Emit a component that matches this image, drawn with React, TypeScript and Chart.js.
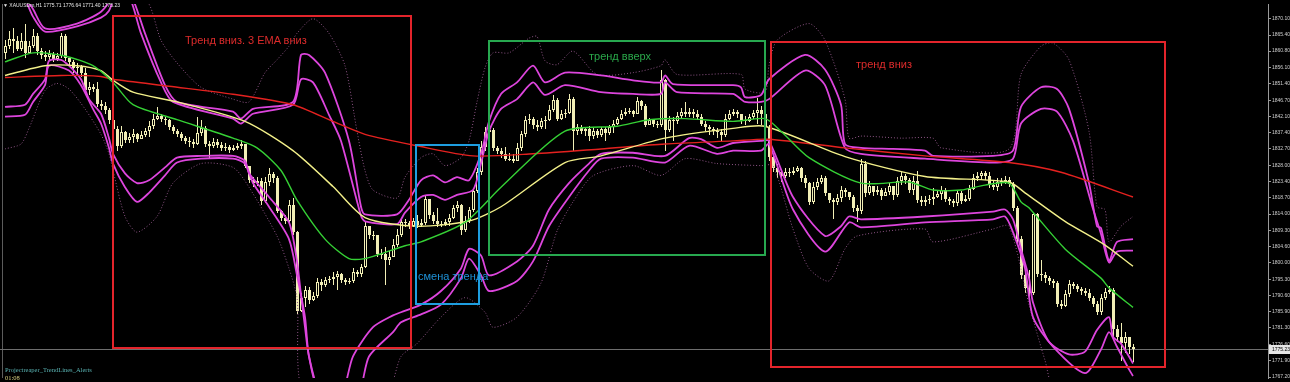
import React, { useEffect, useRef } from "react";
import { Chart, registerables } from "chart.js";

Chart.register(...registerables);

// ---------- DATA (XAUUSDm, H1) ----------
const firstOpen = 1860.3;
const closes = [
  1862.2, 1864.2, 1863.6, 1861.4, 1863.6, 1860.3, 1862.2, 1865.1, 1860.8, 1859.7,
  1859.1, 1860.0, 1858.6, 1859.4, 1865.1, 1858.9, 1857.7, 1855.8, 1856.3, 1854.6,
  1849.6, 1850.4, 1849.9, 1845.6, 1845.1, 1844.0, 1841.1, 1838.3, 1833.6, 1837.5,
  1835.2, 1836.1, 1836.9, 1835.5, 1836.6, 1837.8, 1839.2, 1841.4, 1842.3, 1841.4,
  1840.9, 1838.9, 1837.8, 1836.9, 1835.8, 1835.0, 1834.7, 1834.1, 1837.2, 1838.6,
  1834.1, 1833.6, 1834.7, 1833.8, 1833.0, 1833.3, 1832.4, 1833.0, 1833.6, 1834.1,
  1827.9, 1823.7, 1822.9, 1823.4, 1817.8, 1823.1, 1825.4, 1824.3, 1815.0, 1813.0,
  1811.9, 1816.7, 1808.8, 1786.3, 1790.0, 1792.2, 1789.4, 1790.5, 1794.5, 1793.6,
  1795.0, 1795.3, 1795.9, 1796.7, 1795.0, 1794.5, 1794.8, 1797.3, 1796.7, 1798.7,
  1810.5, 1808.0, 1808.0, 1802.6, 1802.6, 1800.7, 1801.8, 1805.2, 1808.0, 1811.6,
  1811.3, 1810.5, 1811.9, 1810.8, 1811.3, 1818.4, 1813.6, 1811.9, 1811.1, 1811.1,
  1811.6, 1813.0, 1815.8, 1816.7, 1809.4, 1811.9, 1815.3, 1820.6, 1826.0, 1833.3,
  1837.5, 1838.0, 1833.0, 1832.2, 1831.3, 1829.9, 1829.9, 1829.3, 1833.0, 1836.9,
  1841.1, 1841.4, 1839.5, 1838.9, 1840.6, 1841.1, 1844.0, 1846.8, 1841.4, 1842.6,
  1843.1, 1847.0, 1837.8, 1838.9, 1837.8, 1838.3, 1836.4, 1837.8, 1836.6, 1838.3,
  1837.2, 1838.9, 1840.0, 1841.4, 1842.8, 1843.4, 1843.7, 1842.8, 1846.5, 1845.1,
  1839.7, 1840.9, 1840.0, 1839.5, 1852.4, 1838.0, 1841.1, 1840.6, 1842.3, 1843.4,
  1842.8, 1843.4, 1842.8, 1842.0, 1840.0, 1838.9, 1838.3, 1837.8, 1837.5, 1836.6,
  1841.4, 1842.8, 1843.4, 1842.6, 1841.1, 1840.6, 1842.0, 1843.1, 1844.0, 1842.8,
  1838.9, 1830.5, 1827.1, 1826.0, 1824.8, 1826.2, 1825.7, 1826.5, 1827.1, 1824.3,
  1822.9, 1817.5, 1821.7, 1823.1, 1824.3, 1820.1, 1818.1, 1817.5, 1818.6, 1820.9,
  1820.3, 1818.9, 1815.8, 1815.0, 1828.5, 1820.1, 1822.0, 1820.3, 1820.9, 1819.2,
  1820.3, 1822.0, 1819.5, 1823.4, 1824.8, 1823.7, 1820.9, 1823.4, 1818.1, 1817.5,
  1818.1, 1818.4, 1818.9, 1819.8, 1820.9, 1818.4, 1817.8, 1817.2, 1820.1, 1817.8,
  1818.4, 1821.2, 1824.3, 1824.8, 1825.7, 1824.8, 1822.3, 1821.7, 1823.1, 1823.4,
  1823.7, 1822.6, 1815.8, 1806.8, 1796.4, 1792.8, 1791.4, 1813.9, 1796.7, 1796.4,
  1795.6, 1794.8, 1794.2, 1788.3, 1787.7, 1791.1, 1793.9, 1793.4, 1792.5, 1792.0,
  1791.4, 1790.0, 1788.3, 1785.8, 1790.0, 1791.7, 1792.2, 1781.0, 1778.7, 1777.0,
  1778.7, 1775.71, 1775.23,
];
const highs = [
  1863.9, 1866.5, 1867.3, 1865.1, 1865.9, 1868.7, 1863.6, 1867.0, 1865.9, 1861.7,
  1860.8, 1861.1, 1860.5, 1860.3, 1865.9, 1865.6, 1859.1, 1858.3, 1857.5, 1856.9,
  1855.8, 1851.8, 1851.3, 1851.8, 1846.8, 1846.2, 1844.5, 1842.0, 1839.2, 1839.2,
  1837.8, 1837.2, 1838.3, 1837.2, 1837.8, 1838.6, 1840.6, 1842.8, 1844.8, 1842.8,
  1842.0, 1841.4, 1839.5, 1838.3, 1837.5, 1836.4, 1836.1, 1835.5, 1842.0, 1841.1,
  1839.2, 1835.0, 1835.8, 1835.5, 1834.7, 1834.4, 1833.8, 1833.8, 1834.4, 1835.2,
  1834.1, 1827.9, 1824.6, 1824.6, 1824.3, 1824.6, 1827.1, 1826.0, 1824.8, 1815.3,
  1813.6, 1818.1, 1818.6, 1809.1, 1791.4, 1793.3, 1793.1, 1791.7, 1795.6, 1795.3,
  1795.9, 1796.2, 1797.3, 1797.6, 1797.0, 1795.6, 1795.6, 1798.4, 1797.8, 1799.8,
  1811.9, 1809.7, 1809.1, 1808.0, 1804.0, 1804.6, 1803.5, 1806.8, 1809.7, 1813.0,
  1812.7, 1811.9, 1813.0, 1813.6, 1812.5, 1819.5, 1818.4, 1814.7, 1815.8, 1811.9,
  1812.5, 1813.9, 1816.7, 1817.8, 1817.0, 1813.3, 1816.1, 1821.5, 1827.1, 1835.0,
  1838.9, 1839.2, 1838.6, 1833.6, 1833.0, 1833.3, 1831.6, 1831.3, 1834.4, 1837.8,
  1842.3, 1842.8, 1842.0, 1841.1, 1841.7, 1842.3, 1845.4, 1848.2, 1847.3, 1844.0,
  1844.2, 1848.5, 1847.6, 1840.0, 1839.5, 1838.9, 1839.2, 1838.9, 1838.3, 1838.9,
  1838.9, 1839.7, 1841.1, 1842.0, 1844.0, 1844.5, 1844.5, 1844.0, 1847.6, 1846.8,
  1845.6, 1841.7, 1841.4, 1840.6, 1855.5, 1852.7, 1842.3, 1842.0, 1843.4, 1844.5,
  1846.2, 1844.5, 1844.2, 1844.0, 1842.8, 1840.6, 1839.5, 1838.9, 1838.6, 1838.3,
  1842.6, 1844.0, 1844.2, 1844.0, 1842.8, 1842.3, 1842.8, 1844.0, 1847.3, 1845.1,
  1843.4, 1839.5, 1830.7, 1828.5, 1826.5, 1827.1, 1827.1, 1827.6, 1827.9, 1827.6,
  1825.1, 1823.1, 1823.1, 1824.3, 1825.1, 1824.8, 1819.5, 1818.6, 1819.8, 1822.0,
  1821.5, 1820.1, 1819.5, 1816.7, 1829.9, 1829.3, 1823.4, 1821.5, 1822.0, 1821.5,
  1821.5, 1822.9, 1822.0, 1824.6, 1826.0, 1825.4, 1824.3, 1824.8, 1826.5, 1819.2,
  1819.2, 1819.5, 1821.5, 1820.6, 1822.0, 1821.5, 1818.9, 1818.4, 1820.9, 1820.6,
  1819.5, 1822.3, 1825.4, 1826.0, 1826.5, 1826.5, 1826.0, 1823.7, 1824.3, 1824.3,
  1824.8, 1824.6, 1823.1, 1816.4, 1807.7, 1797.8, 1797.8, 1814.4, 1814.4, 1800.7,
  1797.3, 1796.2, 1795.3, 1794.8, 1789.4, 1792.2, 1795.0, 1794.5, 1793.9, 1793.1,
  1792.8, 1792.5, 1790.5, 1788.9, 1791.1, 1792.8, 1793.3, 1792.8, 1782.1, 1782.7,
  1780.1, 1778.7, 1776.64,
];
const lows = [
  1858.6, 1861.4, 1860.3, 1860.8, 1860.8, 1858.9, 1860.3, 1861.7, 1859.7, 1858.6,
  1858.0, 1858.3, 1857.7, 1858.0, 1858.9, 1858.0, 1856.9, 1854.6, 1854.1, 1853.5,
  1848.5, 1848.2, 1849.0, 1844.8, 1844.0, 1842.8, 1840.0, 1837.2, 1832.2, 1833.0,
  1834.4, 1834.4, 1834.4, 1834.7, 1835.5, 1836.1, 1836.1, 1838.3, 1840.9, 1840.3,
  1839.5, 1838.0, 1836.9, 1836.1, 1835.0, 1834.1, 1833.3, 1833.0, 1833.8, 1836.4,
  1833.3, 1829.9, 1833.0, 1833.0, 1832.2, 1832.2, 1831.6, 1832.2, 1832.4, 1832.7,
  1827.1, 1822.9, 1821.7, 1822.0, 1816.7, 1817.2, 1822.0, 1822.9, 1814.2, 1811.9,
  1811.1, 1811.3, 1808.0, 1785.2, 1785.8, 1787.2, 1788.3, 1788.9, 1790.0, 1792.0,
  1793.1, 1794.2, 1793.6, 1792.2, 1794.2, 1793.6, 1793.9, 1794.2, 1795.9, 1795.9,
  1798.4, 1806.8, 1806.6, 1801.8, 1801.2, 1793.6, 1799.5, 1801.8, 1804.6, 1807.4,
  1810.2, 1809.7, 1810.2, 1809.9, 1810.2, 1810.8, 1812.7, 1811.1, 1810.2, 1810.2,
  1810.5, 1810.5, 1812.5, 1814.7, 1808.0, 1808.8, 1811.3, 1814.7, 1820.1, 1825.1,
  1832.2, 1836.6, 1832.2, 1831.3, 1830.2, 1829.3, 1829.1, 1828.8, 1829.1, 1832.2,
  1836.1, 1840.0, 1838.3, 1837.8, 1838.3, 1838.3, 1840.6, 1843.4, 1840.6, 1840.9,
  1841.7, 1842.6, 1832.2, 1836.6, 1836.9, 1836.4, 1835.0, 1835.5, 1835.8, 1836.1,
  1835.0, 1836.6, 1837.2, 1839.5, 1841.1, 1842.3, 1842.6, 1842.0, 1842.8, 1844.0,
  1838.9, 1839.5, 1838.9, 1838.6, 1838.9, 1832.2, 1837.5, 1835.0, 1840.0, 1841.4,
  1842.0, 1842.0, 1841.7, 1841.1, 1839.2, 1837.8, 1836.6, 1836.6, 1835.8, 1835.0,
  1836.1, 1841.1, 1842.3, 1841.7, 1840.0, 1839.7, 1840.3, 1841.4, 1840.0, 1839.7,
  1838.3, 1829.3, 1826.0, 1824.3, 1823.1, 1824.3, 1824.6, 1825.1, 1826.0, 1823.1,
  1821.5, 1816.7, 1817.0, 1820.9, 1822.6, 1819.2, 1817.2, 1812.5, 1816.7, 1817.5,
  1818.9, 1818.1, 1814.7, 1811.6, 1813.9, 1818.9, 1819.5, 1819.2, 1819.5, 1818.1,
  1819.2, 1819.5, 1818.1, 1818.9, 1822.3, 1822.6, 1820.1, 1819.5, 1817.2, 1816.4,
  1816.4, 1817.0, 1816.7, 1818.6, 1818.1, 1817.5, 1816.7, 1816.1, 1816.4, 1817.0,
  1817.5, 1817.8, 1820.9, 1823.4, 1824.0, 1823.7, 1821.5, 1820.9, 1820.6, 1822.0,
  1822.6, 1821.7, 1815.0, 1805.7, 1795.3, 1791.4, 1790.0, 1790.8, 1795.9, 1794.8,
  1794.2, 1793.6, 1792.8, 1787.4, 1786.6, 1787.2, 1790.3, 1792.5, 1791.7, 1790.8,
  1790.5, 1789.1, 1787.2, 1784.9, 1784.9, 1789.4, 1791.1, 1778.7, 1777.3, 1771.7,
  1774.0, 1773.7, 1771.40,
];
const lastBid = 1775.23;

const priceTicks = [
  1870.1, 1865.4, 1860.8, 1856.1, 1851.4, 1846.7, 1842.1, 1837.4, 1832.7, 1828.0,
  1823.4, 1818.7, 1814.0, 1809.3, 1804.6, 1800.0, 1795.3, 1790.6, 1785.9, 1781.3,
  1776.6, 1771.9, 1767.2,
];

// EMAs (bar index -> value)
const emaRedIdx = [0, 14, 24, 27, 41, 57, 72, 82, 90, 103, 117, 132, 149, 165, 182, 191, 210, 230, 251, 264, 282];
const emaRedVal = [1853.2, 1853.8, 1853.5, 1852.7, 1850.7, 1848.4, 1845.4, 1840.6, 1836.9, 1833.6, 1830.7, 1831.3, 1832.7, 1834.1, 1835.0, 1835.5, 1833.0, 1830.7, 1828.8, 1826.0, 1818.9];

const emaYellowIdx = [0, 10, 18, 24, 27, 32, 43, 60, 72, 82, 90, 103, 116, 124, 140, 149, 165, 182, 190, 210, 230, 251, 255, 265, 275, 282];
const emaYellowVal = [1853.8, 1856.6, 1856.6, 1855.2, 1852.4, 1849.0, 1846.2, 1840.6, 1832.2, 1821.9, 1813.0, 1810.5, 1812.0, 1816.1, 1828.8, 1830.7, 1835.8, 1838.6, 1839.2, 1830.5, 1824.8, 1823.2, 1820.1, 1811.9, 1805.1, 1799.0];

const emaGreenIdx = [0, 7, 15, 22, 27, 32, 43, 57, 63, 69, 73, 80, 86, 90, 94, 100, 104, 115, 124, 140, 153, 161, 170, 182, 190, 194, 201, 214, 226, 232, 239, 245, 251, 254, 256, 265, 274, 276, 282];
const emaGreenVal = [1857.7, 1860.3, 1859.4, 1856.6, 1851.8, 1845.4, 1841.1, 1835.8, 1833.0, 1826.5, 1818.0, 1806.8, 1801.2, 1801.2, 1802.6, 1804.9, 1806.0, 1811.6, 1821.7, 1837.8, 1839.2, 1841.1, 1841.4, 1840.6, 1841.4, 1837.8, 1830.2, 1822.9, 1823.2, 1820.9, 1820.9, 1822.3, 1822.9, 1817.5, 1815.8, 1804.0, 1795.6, 1792.8, 1787.2];

// Bands
const upperOuterIdx = [0, 4, 7, 10, 18, 24, 27, 29, 32, 35, 40, 43, 57, 59, 62, 72, 74, 76, 80, 86, 89, 90, 98, 101, 104, 107, 110, 113, 116, 119, 121, 124, 128, 132, 135, 140, 149, 157, 164, 165, 167, 182, 184, 185, 189, 191, 200, 205, 209, 210, 214, 222, 230, 232, 247, 252, 254, 259, 263, 266, 271, 273, 274, 276, 278, 282];
const upperOuterVal = [1888.4, 1878.5, 1872.9, 1867.3, 1868.7, 1872.1, 1876.6, 1881.3, 1875.7, 1865.9, 1851.0, 1846.2, 1843.4, 1841.4, 1844.2, 1846.2, 1859.7, 1859.7, 1854.6, 1835.0, 1816.1, 1813.9, 1813.9, 1818.1, 1823.7, 1825.1, 1823.1, 1824.6, 1823.7, 1831.3, 1840.6, 1848.5, 1851.8, 1856.6, 1851.8, 1854.6, 1853.8, 1852.4, 1851.8, 1853.8, 1851.3, 1851.0, 1850.4, 1847.6, 1848.2, 1852.7, 1859.7, 1855.5, 1845.4, 1834.1, 1833.0, 1832.7, 1832.2, 1830.7, 1830.7, 1832.2, 1844.8, 1850.4, 1849.9, 1844.2, 1822.9, 1810.5, 1810.0, 1800.6, 1806.0, 1806.8];

const upperInnerIdx = [0, 5, 7, 10, 18, 24, 26, 28, 31, 34, 39, 42, 57, 59, 62, 72, 74, 77, 81, 84, 89, 90, 98, 100, 104, 107, 110, 113, 117, 119, 121, 124, 128, 132, 135, 140, 149, 157, 164, 165, 168, 182, 184, 185, 189, 191, 200, 205, 210, 214, 230, 247, 252, 254, 259, 263, 267, 272, 274, 276, 278, 282];
const upperInnerVal = [1884.2, 1875.7, 1870.7, 1866.4, 1867.9, 1870.4, 1872.4, 1877.7, 1876.6, 1865.9, 1851.8, 1846.2, 1841.4, 1840.0, 1842.8, 1845.4, 1852.7, 1851.8, 1842.5, 1835.0, 1813.5, 1811.9, 1811.1, 1814.4, 1818.9, 1819.5, 1818.1, 1819.5, 1820.9, 1828.5, 1837.8, 1844.2, 1847.0, 1851.8, 1848.2, 1851.0, 1849.0, 1848.5, 1848.5, 1851.8, 1849.0, 1848.5, 1847.0, 1846.2, 1846.2, 1847.0, 1855.2, 1851.0, 1833.0, 1831.3, 1829.9, 1828.8, 1829.9, 1840.0, 1844.2, 1843.4, 1835.0, 1815.5, 1808.3, 1800.1, 1803.2, 1803.5];

const lowerInnerIdx = [0, 5, 7, 10, 11, 14, 16, 19, 21, 24, 26, 27, 30, 33, 36, 40, 43, 49, 57, 60, 61, 66, 71, 73, 74, 75, 76, 79, 84, 87, 92, 97, 99, 104, 109, 114, 116, 119, 121, 128, 132, 136, 141, 146, 149, 157, 165, 171, 174, 178, 182, 189, 191, 197, 205, 209, 211, 214, 230, 247, 250, 252, 254, 256, 257, 261, 266, 270, 273, 276, 277, 279, 282];
const lowerInnerVal = [1844.8, 1845.4, 1848.5, 1852.7, 1858.0, 1858.3, 1856.6, 1852.7, 1847.0, 1842.8, 1835.8, 1831.3, 1825.7, 1822.9, 1823.7, 1827.4, 1830.2, 1830.7, 1830.7, 1829.3, 1825.7, 1818.9, 1811.6, 1800.4, 1790.8, 1781.5, 1773.1, 1761.9, 1761.9, 1773.1, 1781.5, 1784.9, 1785.8, 1788.0, 1791.9, 1798.4, 1804.0, 1802.1, 1796.4, 1800.4, 1804.9, 1815.3, 1822.9, 1828.5, 1831.3, 1831.6, 1830.7, 1835.8, 1835.5, 1833.0, 1834.4, 1835.0, 1835.0, 1818.9, 1807.7, 1810.5, 1813.3, 1812.5, 1813.3, 1814.7, 1815.3, 1812.5, 1804.0, 1795.6, 1788.6, 1777.3, 1773.7, 1774.5, 1780.7, 1784.4, 1778.7, 1776.8, 1771.1];

const lowerOuterIdx = [0, 5, 7, 10, 11, 16, 19, 22, 24, 26, 27, 30, 33, 36, 40, 43, 49, 57, 60, 62, 66, 71, 73, 75, 76, 79, 88, 91, 97, 99, 104, 109, 114, 116, 119, 121, 128, 132, 136, 141, 146, 149, 157, 165, 171, 178, 182, 189, 191, 197, 205, 211, 214, 230, 247, 250, 252, 255, 257, 262, 270, 274, 276, 278, 281, 282];
const lowerOuterVal = [1842.0, 1842.5, 1846.2, 1851.0, 1856.6, 1855.2, 1851.0, 1844.2, 1840.0, 1833.0, 1828.5, 1821.7, 1817.5, 1820.1, 1825.1, 1828.8, 1829.9, 1829.9, 1828.5, 1822.9, 1816.1, 1806.8, 1796.4, 1784.4, 1773.1, 1761.9, 1761.9, 1773.1, 1780.1, 1782.9, 1785.2, 1788.0, 1795.6, 1801.2, 1796.4, 1791.9, 1794.8, 1800.4, 1810.5, 1818.9, 1826.5, 1829.9, 1830.2, 1828.8, 1833.6, 1831.3, 1832.2, 1832.2, 1834.1, 1815.3, 1803.2, 1811.6, 1810.2, 1811.6, 1812.5, 1813.3, 1808.8, 1798.4, 1784.4, 1775.9, 1768.3, 1775.1, 1780.1, 1775.9, 1769.4, 1767.5];

const dottedUpperIdx = [0, 25, 31, 36, 39, 43, 49, 57, 61, 65, 68, 71, 73, 77, 81, 85, 88, 90, 92, 98, 100, 104, 107, 110, 114, 116, 118, 120, 122, 126, 131, 133, 135, 138, 142, 148, 157, 164, 165, 168, 184, 185, 190, 191, 193, 201, 205, 210, 211, 214, 224, 232, 234, 251, 254, 259, 262, 266, 271, 273, 275, 276, 279, 282];
const dottedUpperVal = [1896.8, 1891.2, 1880.0, 1874.3, 1863.9, 1857.4, 1850.4, 1847.0, 1846.2, 1854.6, 1858.3, 1862.2, 1865.9, 1870.1, 1865.9, 1856.6, 1837.8, 1826.5, 1820.9, 1818.6, 1824.6, 1830.2, 1831.3, 1827.9, 1830.2, 1835.0, 1846.2, 1856.0, 1860.3, 1860.3, 1864.5, 1865.0, 1858.0, 1856.9, 1860.8, 1854.1, 1854.6, 1856.6, 1858.3, 1854.1, 1854.1, 1849.9, 1849.0, 1856.6, 1863.9, 1868.7, 1863.9, 1847.0, 1835.8, 1836.4, 1835.8, 1835.8, 1833.0, 1832.7, 1854.1, 1862.2, 1863.1, 1858.3, 1837.8, 1816.1, 1815.3, 1806.0, 1810.5, 1813.3];

const dottedLowerIdx = [0, 4, 6, 10, 13, 16, 20, 24, 26, 27, 30, 33, 38, 42, 49, 57, 61, 68, 71, 73, 75, 95, 99, 103, 109, 115, 120, 122, 128, 134, 138, 142, 147, 157, 164, 170, 178, 189, 192, 197, 201, 206, 210, 213, 230, 232, 247, 251, 256, 260, 263, 282];
const dottedLowerVal = [1832.7, 1834.1, 1838.6, 1849.5, 1851.5, 1849.9, 1844.2, 1836.9, 1831.3, 1826.5, 1813.3, 1808.8, 1813.3, 1822.9, 1828.5, 1827.4, 1821.7, 1807.7, 1798.4, 1790.0, 1761.9, 1761.9, 1773.1, 1776.8, 1784.4, 1790.0, 1785.8, 1781.5, 1784.4, 1794.2, 1809.1, 1817.5, 1825.0, 1827.9, 1825.1, 1829.9, 1828.5, 1827.9, 1827.9, 1809.7, 1798.4, 1794.8, 1804.0, 1807.7, 1809.7, 1806.0, 1809.7, 1810.5, 1788.0, 1772.0, 1761.9, 1756.2];

// annotation zones (bar index range, price range)
const zones = [
  { from: 27, to: 101.5, hi: 1870.9, lo: 1775.6, color: "#e3242b" },
  { from: 102.75, to: 118.5, hi: 1833.8, lo: 1788.3, color: "#1e9ee0" },
  { from: 121, to: 190, hi: 1863.6, lo: 1802.1, color: "#27a84f" },
  { from: 191.5, to: 290, hi: 1863.4, lo: 1770.0, color: "#e3242b" },
];

const CANDLE = "#f2efb6";

const pts = (idx: number[], val: number[]) => idx.map((x, k) => ({ x, y: val[k] }));

const chartPlugin = {
  id: "mt4overlay",
  beforeDatasetsDraw(chart: any) {
    const { ctx, chartArea: a, scales } = chart;
    const xs = scales.x;
    const ys = scales.y;
    ctx.save();
    ctx.beginPath();
    ctx.rect(a.left, a.top, a.right - a.left, a.bottom - a.top);
    ctx.clip();
    // left frame line
    ctx.fillStyle = "#5c5c5c";
    ctx.fillRect(a.left + 2, a.top, 1, a.bottom - a.top);
    // bid line
    const by = Math.round(ys.getPixelForValue(lastBid)) + 0.5;
    ctx.strokeStyle = "#6e6e6e";
    ctx.lineWidth = 1;
    ctx.beginPath();
    ctx.moveTo(a.left, by);
    ctx.lineTo(a.right, by);
    ctx.stroke();
    // candles
    for (let i = 0; i < closes.length; i++) {
      const o = i === 0 ? firstOpen : closes[i - 1];
      const c = closes[i];
      const px = Math.round(xs.getPixelForValue(i));
      const yh = Math.round(ys.getPixelForValue(highs[i]));
      const yl = Math.round(ys.getPixelForValue(lows[i]));
      const yo = Math.round(ys.getPixelForValue(o));
      const yc = Math.round(ys.getPixelForValue(c));
      ctx.fillStyle = CANDLE;
      ctx.fillRect(px, yh, 1, Math.max(1, yl - yh));
      const top = Math.min(yo, yc);
      const h = Math.max(1, Math.abs(yo - yc));
      if (c < o) {
        ctx.fillStyle = CANDLE;
        ctx.fillRect(px - 1, top, 3, h);
      } else {
        ctx.fillStyle = CANDLE;
        ctx.fillRect(px - 1, top, 3, h);
        if (h > 2) {
          ctx.fillStyle = "#000000";
          ctx.fillRect(px, top + 1, 1, h - 2);
        }
      }
    }
    ctx.restore();
  },
  afterDatasetsDraw(chart: any) {
    const { ctx, chartArea: a, scales } = chart;
    const xs = scales.x;
    const ys = scales.y;
    ctx.save();
    ctx.beginPath();
    ctx.rect(a.left, a.top, a.right - a.left, a.bottom - a.top);
    ctx.clip();
    ctx.lineWidth = 2;
    zones.forEach((z) => {
      const x1 = Math.round(xs.getPixelForValue(z.from));
      const x2 = Math.round(xs.getPixelForValue(z.to));
      const y1 = Math.round(ys.getPixelForValue(z.hi));
      const y2 = Math.round(ys.getPixelForValue(z.lo));
      ctx.strokeStyle = z.color;
      ctx.strokeRect(x1, y1, x2 - x1, y2 - y1);
    });
    ctx.restore();
  },
  afterDraw(chart: any) {
    const { ctx, chartArea: a, scales, width } = chart;
    const ys = scales.y;
    const by = Math.round(ys.getPixelForValue(lastBid));
    ctx.save();
    ctx.fillStyle = "#e6e6e6";
    ctx.fillRect(a.right + 1, by - 4, width - a.right - 1, 9);
    ctx.fillStyle = "#000000";
    ctx.font = "5px 'Liberation Sans'";
    ctx.textBaseline = "middle";
    ctx.fillText(lastBid.toFixed(2), a.right + 4, by + 0.5);
    ctx.restore();
  },
};

const lineDs = (label: string, idx: number[], val: number[], color: string, width: number, dash?: number[]) => ({
  label,
  data: pts(idx, val),
  borderColor: color,
  borderWidth: width,
  borderDash: dash || [],
  pointRadius: 0,
  fill: false,
  tension: 0.25,
});

export default function App() {
  const ref = useRef<HTMLCanvasElement | null>(null);

  useEffect(() => {
    if (!ref.current) return;
    const chart = new Chart(ref.current, {
      type: "line",
      data: {
        datasets: [
          lineDs("EMA fast", emaGreenIdx, emaGreenVal, "#35d035", 1.4),
          lineDs("EMA mid", emaYellowIdx, emaYellowVal, "#f3f08a", 1.4),
          lineDs("EMA slow", emaRedIdx, emaRedVal, "#e4211f", 1.4),
          lineDs("Upper outer", upperOuterIdx, upperOuterVal, "#dd45dd", 1.8),
          lineDs("Upper inner", upperInnerIdx, upperInnerVal, "#dd45dd", 1.8),
          lineDs("Lower inner", lowerInnerIdx, lowerInnerVal, "#dd45dd", 1.8),
          lineDs("Lower outer", lowerOuterIdx, lowerOuterVal, "#dd45dd", 1.8),
          lineDs("Dotted upper", dottedUpperIdx, dottedUpperVal, "#8e5586", 1, [1, 2]),
          lineDs("Dotted lower", dottedLowerIdx, dottedLowerVal, "#8e5586", 1, [1, 2]),
        ],
      },
      options: {
        animation: false,
        responsive: false,
        maintainAspectRatio: false,
        events: [],
        layout: { padding: 0, autoPadding: false },
        plugins: { legend: { display: false }, tooltip: { enabled: false } },
        scales: {
          x: { type: "linear", min: -1.25, max: 315.75, display: false },
          y: {
            position: "right",
            min: 1766.92,
            max: 1874.32,
            afterBuildTicks: (s: any) => {
              s.ticks = priceTicks.map((v) => ({ value: v }));
            },
            afterFit: (s: any) => {
              s.width = 22;
            },
            ticks: {
              autoSkip: false,
              color: "#cfcfcf",
              padding: 1,
              font: { size: 5, family: "'Liberation Sans'" },
              callback: (v: any) => Number(v).toFixed(2),
            },
            grid: { drawOnChartArea: false, drawTicks: true, tickLength: 3, color: "#9a9a9a" },
            border: { display: true, color: "#9a9a9a", width: 1 },
          },
        },
      },
      plugins: [chartPlugin],
    } as any);
    return () => chart.destroy();
  }, []);

  const label = (text: string, left: number, top: number, color: string, size: number, family = "'Liberation Sans', Arial, sans-serif") => (
    <div
      style={{
        position: "absolute",
        left,
        top,
        color,
        fontSize: size,
        lineHeight: 1,
        fontFamily: family,
        whiteSpace: "nowrap",
        pointerEvents: "none",
      }}
    >
      {text}
    </div>
  );

  return (
    <div style={{ position: "fixed", left: 0, top: 0, width: 1290, height: 382, background: "#000", overflow: "hidden" }}>
      <canvas ref={ref} width={1290} height={382} style={{ display: "block", width: 1290, height: 382 }} />
      {label("▼ XAUUSDm,H1  1775.71 1776.64 1771.40 1775.23", 3, 3, "#e6e6e6", 5)}
      {label("Тренд вниз. 3 EMA вниз", 185, 35, "#dc2b2b", 11)}
      {label("смена тренда", 418, 271, "#1e92d8", 11)}
      {label("тренд вверх", 589, 51, "#2aa84a", 11)}
      {label("тренд вниз", 856, 59, "#dc2b2b", 11)}
      {label("Projectreaper_TrendLines_Alerts", 5, 367, "#5ab4b4", 6.5, "'Liberation Serif', serif")}
      {label("01:08", 5, 375, "#d8d080", 6.5, "'Liberation Serif', serif")}
    </div>
  );
}
